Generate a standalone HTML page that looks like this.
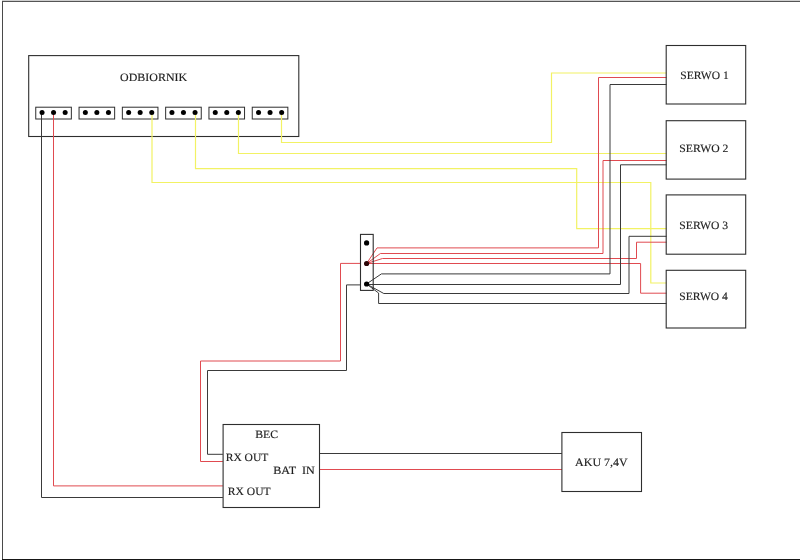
<!DOCTYPE html>
<html><head><meta charset="utf-8"><style>
html,body{margin:0;padding:0;background:#fff;width:800px;height:560px;overflow:hidden}
svg{display:block;will-change:transform}
text{font-family:"Liberation Serif",serif;text-rendering:geometricPrecision;fill:#1e1e1e;stroke:#1e1e1e;stroke-width:0.15px}
</style></head><body>
<svg width="800" height="560" viewBox="0 0 800 560">
<rect x="2" y="0" width="798" height="1" fill="#cfcfcf"/>
<rect x="2" y="1" width="798" height="1" fill="#555"/>
<rect x="2" y="1" width="1" height="559" fill="#4a4a4a"/>
<rect x="2" y="559" width="798" height="1" fill="#161616"/>
<rect x="28.7" y="55.6" width="270.1" height="80.9" fill="none" stroke="#2e2e2e" stroke-width="1.1"/>
<rect x="35.75" y="107.2" width="35.6" height="11.8" fill="none" stroke="#2e2e2e" stroke-width="1"/>
<rect x="79.05" y="107.2" width="35.6" height="11.8" fill="none" stroke="#2e2e2e" stroke-width="1"/>
<rect x="122.35" y="107.2" width="35.6" height="11.8" fill="none" stroke="#2e2e2e" stroke-width="1"/>
<rect x="165.65" y="107.2" width="35.6" height="11.8" fill="none" stroke="#2e2e2e" stroke-width="1"/>
<rect x="208.95" y="107.2" width="35.6" height="11.8" fill="none" stroke="#2e2e2e" stroke-width="1"/>
<rect x="252.25" y="107.2" width="35.6" height="11.8" fill="none" stroke="#2e2e2e" stroke-width="1"/>
<polyline points="152,112.6 152,182.5 650.8,182.5 650.8,283 666.5,283" fill="none" stroke="#f2f264" stroke-width="1.2"/>
<polyline points="195.5,112.6 195.5,168.6 576.7,168.6 576.7,228.7 666.5,228.7" fill="none" stroke="#f2f264" stroke-width="1.2"/>
<polyline points="238.5,112.6 238.5,153.5 666.5,153.5" fill="none" stroke="#f2f264" stroke-width="1.2"/>
<polyline points="281.5,112.6 281.5,142.5 551.5,142.5 551.5,73 666.5,73" fill="none" stroke="#f2f264" stroke-width="1.2"/>
<polyline points="366.6,263.5 377,247.9 598.5,247.9 598.5,77.5 666.5,77.5" fill="none" stroke="#e04a50" stroke-width="1"/>
<polyline points="366.6,263.5 380.4,253.5 603,253.5 603,160.5 666.5,160.5" fill="none" stroke="#e04a50" stroke-width="1"/>
<polyline points="366.6,263.5 382.5,258.5 636.5,258.5 636.5,242.2 666.5,242.2" fill="none" stroke="#e04a50" stroke-width="1"/>
<polyline points="366.6,263.5 640.6,263.5 640.6,293.2 666.5,293.2" fill="none" stroke="#e04a50" stroke-width="1"/>
<polyline points="360.5,263.4 340.5,263.4 340.5,361 200.5,361 200.5,461.5 222.9,461.5" fill="none" stroke="#e04a50" stroke-width="1"/>
<polyline points="53.5,112.6 53.5,485.9 222.9,485.9" fill="none" stroke="#e04a50" stroke-width="1"/>
<polyline points="319.5,469.5 561.9,469.5" fill="none" stroke="#e04a50" stroke-width="1"/>
<polyline points="366.5,284 381.4,273.9 610,273.9 610,84.5 666.5,84.5" fill="none" stroke="#3a3a3a" stroke-width="1"/>
<polyline points="366.5,284.5 620.5,284.5 620.5,164.8 666.5,164.8" fill="none" stroke="#3a3a3a" stroke-width="1"/>
<polyline points="366.5,284 383.8,293.5 629,293.5 629,236.3 666.5,236.3" fill="none" stroke="#3a3a3a" stroke-width="1"/>
<polyline points="366.5,284 378.6,293 378.6,303.5 666.5,303.5" fill="none" stroke="#3a3a3a" stroke-width="1"/>
<polyline points="360.5,284.9 346.5,284.9 346.5,370.5 207.5,370.5 207.5,454.3 222.9,454.3" fill="none" stroke="#3a3a3a" stroke-width="1"/>
<polyline points="41.5,112.6 41.5,497.5 222.9,497.5" fill="none" stroke="#3a3a3a" stroke-width="1"/>
<polyline points="319.5,453.5 561.9,453.5" fill="none" stroke="#3a3a3a" stroke-width="1"/>
<circle cx="42.05" cy="112.6" r="2.5" fill="#000"/>
<circle cx="53.55" cy="112.6" r="2.5" fill="#000"/>
<circle cx="65.15" cy="112.6" r="2.5" fill="#000"/>
<circle cx="85.35" cy="112.6" r="2.5" fill="#000"/>
<circle cx="96.85" cy="112.6" r="2.5" fill="#000"/>
<circle cx="108.45" cy="112.6" r="2.5" fill="#000"/>
<circle cx="128.65" cy="112.6" r="2.5" fill="#000"/>
<circle cx="140.15" cy="112.6" r="2.5" fill="#000"/>
<circle cx="151.75" cy="112.6" r="2.5" fill="#000"/>
<circle cx="171.95" cy="112.6" r="2.5" fill="#000"/>
<circle cx="183.45" cy="112.6" r="2.5" fill="#000"/>
<circle cx="195.05" cy="112.6" r="2.5" fill="#000"/>
<circle cx="215.25" cy="112.6" r="2.5" fill="#000"/>
<circle cx="226.75" cy="112.6" r="2.5" fill="#000"/>
<circle cx="238.35" cy="112.6" r="2.5" fill="#000"/>
<circle cx="258.55" cy="112.6" r="2.5" fill="#000"/>
<circle cx="270.05" cy="112.6" r="2.5" fill="#000"/>
<circle cx="281.65" cy="112.6" r="2.5" fill="#000"/>
<rect x="666.2" y="45.5" width="79.5" height="58.5" fill="none" stroke="#2e2e2e" stroke-width="1.1"/>
<rect x="666.2" y="120.7" width="79.5" height="58.4" fill="none" stroke="#2e2e2e" stroke-width="1.1"/>
<rect x="666.2" y="194.9" width="79.5" height="59.3" fill="none" stroke="#2e2e2e" stroke-width="1.1"/>
<rect x="666.2" y="270.3" width="79.5" height="57.7" fill="none" stroke="#2e2e2e" stroke-width="1.1"/>
<rect x="360.5" y="234.4" width="12.7" height="56" fill="none" stroke="#2e2e2e" stroke-width="1.1"/>
<circle cx="366.6" cy="242.9" r="2.6" fill="#000"/>
<circle cx="366.6" cy="263.5" r="2.6" fill="#2a0406"/>
<circle cx="366.6" cy="284" r="2.6" fill="#000"/>
<rect x="223.1" y="424.5" width="96.4" height="83" fill="none" stroke="#2e2e2e" stroke-width="1.1"/>
<rect x="561.9" y="432.5" width="79.6" height="59" fill="none" stroke="#2e2e2e" stroke-width="1.1"/>
<text x="120.11" y="80.65" font-size="11.25" textLength="67.01" lengthAdjust="spacingAndGlyphs">ODBIORNIK</text>
<text x="680.34" y="78.90" font-size="11.25" textLength="48.45" lengthAdjust="spacingAndGlyphs">SERWO 1</text>
<text x="679.33" y="151.85" font-size="11.25" textLength="49.06" lengthAdjust="spacingAndGlyphs">SERWO 2</text>
<text x="679.33" y="228.70" font-size="11.25" textLength="48.87" lengthAdjust="spacingAndGlyphs">SERWO 3</text>
<text x="679.34" y="299.80" font-size="11.25" textLength="48.59" lengthAdjust="spacingAndGlyphs">SERWO 4</text>
<text x="255.26" y="438.00" font-size="11.25" textLength="22.89" lengthAdjust="spacingAndGlyphs">BEC</text>
<text x="225.73" y="460.50" font-size="11.25" textLength="42.56" lengthAdjust="spacingAndGlyphs">RX OUT</text>
<text x="273.16" y="474.00" font-size="11.25" textLength="41.71" lengthAdjust="spacingAndGlyphs">BAT&#160; IN</text>
<text x="227.87" y="494.90" font-size="11.25" textLength="42.83" lengthAdjust="spacingAndGlyphs">RX OUT</text>
<text x="575.13" y="465.60" font-size="11.25" textLength="52.60" lengthAdjust="spacingAndGlyphs">AKU 7,4V</text>
</svg>
</body></html>
